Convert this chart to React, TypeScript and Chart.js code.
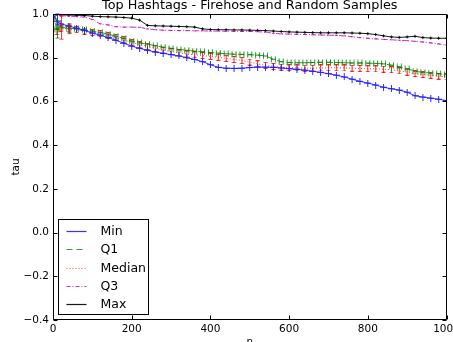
import React, { useEffect, useRef } from "react";
import { Chart, registerables } from "chart.js";

Chart.register(...registerables);

const TITLE = "Top Hashtags - Firehose and Random Samples";
const X_LABEL = "n";
const Y_LABEL = "tau";
const X_TICKS = [0, 200, 400, 600, 800, 1000];
const Y_TICKS = [-0.4, -0.2, 0.0, 0.2, 0.4, 0.6, 0.8, 1.0];

const N = [
  1, 10, 20, 40, 60, 80, 100, 120, 140, 160, 180, 200, 220, 240, 260, 280, 300, 320, 340, 360, 380, 400,
  420, 440, 460, 480, 500, 520, 540, 560, 580, 600, 620, 640, 660, 680, 700, 720, 740, 760, 780, 800,
  820, 840, 860, 880, 900, 920, 940, 960, 980, 1000,
];

const MIN = [
  1.0, 0.965, 0.955, 0.945, 0.935, 0.925, 0.913, 0.903, 0.892, 0.88, 0.866, 0.853, 0.843, 0.834, 0.826, 0.82,
  0.814, 0.808, 0.8, 0.792, 0.782, 0.768, 0.756, 0.752, 0.751, 0.752, 0.755, 0.757, 0.757, 0.756, 0.753, 0.75,
  0.747, 0.743, 0.738, 0.733, 0.727, 0.72, 0.712, 0.702, 0.692, 0.684, 0.675, 0.665, 0.658, 0.652, 0.642, 0.626,
  0.62, 0.615, 0.61, 0.604,
];

const Q1 = [
  1.0, 0.93, 0.94, 0.935, 0.932, 0.928, 0.922, 0.916, 0.908, 0.898, 0.888, 0.876, 0.868, 0.862, 0.855, 0.848,
  0.843, 0.838, 0.834, 0.83, 0.827, 0.824, 0.821, 0.818, 0.816, 0.815, 0.814, 0.812, 0.808, 0.793, 0.782, 0.778,
  0.777, 0.777, 0.778, 0.779, 0.779, 0.778, 0.777, 0.776, 0.776, 0.775, 0.774, 0.772, 0.766, 0.758, 0.75, 0.738,
  0.733, 0.73, 0.727, 0.722,
];

const MEDIAN = [
  1.0, 0.92, 0.935, 0.932, 0.928, 0.922, 0.916, 0.91, 0.902, 0.892, 0.882, 0.87, 0.86, 0.852, 0.843, 0.835,
  0.828, 0.822, 0.817, 0.813, 0.81, 0.806, 0.802, 0.797, 0.792, 0.787, 0.78, 0.772, 0.765, 0.76, 0.757, 0.755,
  0.753, 0.752, 0.752, 0.753, 0.754, 0.754, 0.753, 0.752, 0.751, 0.75, 0.749, 0.748, 0.745, 0.74, 0.734, 0.728,
  0.724, 0.72, 0.716, 0.712,
];

const Q3 = [
  1.0, 0.995, 0.993, 0.99, 0.988, 0.986, 0.975, 0.955, 0.95, 0.942, 0.94, 0.94, 0.939, 0.932, 0.928, 0.926,
  0.925, 0.924, 0.924, 0.923, 0.923, 0.922, 0.922, 0.921, 0.921, 0.92, 0.92, 0.919, 0.917, 0.912, 0.909, 0.908,
  0.907, 0.906, 0.905, 0.904, 0.903, 0.902, 0.9, 0.896, 0.892, 0.889, 0.886, 0.884, 0.882, 0.88, 0.878, 0.875,
  0.872, 0.868, 0.863, 0.858,
];

const MAX = [
  1.0, 0.998, 0.996, 0.995, 0.994, 0.993, 0.99, 0.988, 0.987, 0.986, 0.984, 0.981, 0.972, 0.948, 0.946, 0.945,
  0.944, 0.943, 0.942, 0.94, 0.932, 0.929, 0.928, 0.928, 0.927, 0.927, 0.926, 0.925, 0.924, 0.922, 0.92, 0.918,
  0.917, 0.916, 0.915, 0.914, 0.914, 0.914, 0.914, 0.913, 0.912, 0.91, 0.906, 0.9, 0.895, 0.893, 0.895, 0.898,
  0.892, 0.89, 0.889, 0.889,
];

// early, larger error bars: [n, low, high]
const MIN_BARS = [[10, 0.95, 1.0]];
const Q1_BARS = [[10, 0.89, 0.97], [40, 0.91, 0.955]];
const MEDIAN_BARS = [[20, 0.885, 0.99], [40, 0.915, 0.95]];

const LABELS = ["Min", "Q1", "Median", "Q3", "Max"];
const FONT = "'DejaVu Sans', sans-serif";

function mark(kind: string, color: string) {
  const c = document.createElement("canvas");
  c.width = 7;
  c.height = 7;
  const g = c.getContext("2d")!;
  g.strokeStyle = color;
  g.lineWidth = 1;
  g.beginPath();
  if (kind === "H") {
    g.moveTo(1.5, 0.5); g.lineTo(1.5, 6.5);
    g.moveTo(5.5, 0.5); g.lineTo(5.5, 6.5);
    g.moveTo(1, 3.5); g.lineTo(6, 3.5);
  } else if (kind === "I") {
    g.moveTo(3.5, 0); g.lineTo(3.5, 7);
    g.moveTo(1.5, 0.5); g.lineTo(5.5, 0.5);
    g.moveTo(1.5, 6.5); g.lineTo(5.5, 6.5);
  } else {
    g.moveTo(3.5, 0); g.lineTo(3.5, 7);
    g.moveTo(0, 3.5); g.lineTo(7, 3.5);
  }
  g.stroke();
  return c;
}

const errPlugin = {
  id: "errbars",
  afterDatasetsDraw(chart: any) {
    const { ctx, scales } = chart;
    const { x, y } = scales;
    ctx.save();
    chart.data.datasets.forEach((ds: any) => {
      (ds.bars || []).forEach((b: number[]) => {
        const px = Math.round(x.getPixelForValue(b[0])) + 0.5;
        const y1 = y.getPixelForValue(b[1]);
        const y2 = y.getPixelForValue(b[2]);
        ctx.strokeStyle = ds.markColor;
        ctx.lineWidth = 1;
        ctx.setLineDash([]);
        ctx.beginPath();
        ctx.moveTo(px, y1); ctx.lineTo(px, y2);
        ctx.moveTo(px - 2, y1); ctx.lineTo(px + 2, y1);
        ctx.moveTo(px - 2, y2); ctx.lineTo(px + 2, y2);
        ctx.stroke();
      });
    });
    ctx.restore();
  },
};

const framePlugin = {
  id: "frame",
  afterDraw(chart: any) {
    const { ctx, chartArea: a, scales } = chart;
    const { x, y } = scales;
    ctx.save();
    ctx.strokeStyle = "#000";
    ctx.lineWidth = 1;
    ctx.setLineDash([]);
    const l = Math.round(a.left) + 0.5;
    const r = Math.round(a.right) - 0.5;
    const t = Math.round(a.top) + 0.5;
    const b = Math.round(a.bottom) - 0.5;
    ctx.beginPath();
    ctx.rect(l, t, r - l, b - t);
    X_TICKS.forEach((v) => {
      const px = Math.round(x.getPixelForValue(v)) + 0.5;
      ctx.moveTo(px, b); ctx.lineTo(px, b - 4);
      ctx.moveTo(px, t); ctx.lineTo(px, t + 4);
    });
    Y_TICKS.forEach((v) => {
      const py = Math.round(y.getPixelForValue(v)) + 0.5;
      ctx.moveTo(l, py); ctx.lineTo(l + 4, py);
      ctx.moveTo(r, py); ctx.lineTo(r - 4, py);
    });
    ctx.stroke();

    // legend
    const bx = l + 5;
    const bw = 90;
    const bh = 95;
    const by = b - 5 - bh;
    ctx.fillStyle = "#fff";
    ctx.fillRect(bx, by, bw, bh);
    ctx.strokeStyle = "#000";
    ctx.strokeRect(bx, by, bw, bh);
    ctx.font = `12.5px ${FONT}`;
    ctx.textBaseline = "middle";
    ctx.textAlign = "left";
    chart.data.datasets.forEach((ds: any, i: number) => {
      const cy = Math.round(by + 11.5 + i * 18.3) + 0.5;
      ctx.strokeStyle = ds.borderColor;
      ctx.lineWidth = 1.2;
      ctx.setLineDash(ds.borderDash || []);
      ctx.beginPath();
      ctx.moveTo(bx + 8, cy);
      ctx.lineTo(bx + 28, cy);
      ctx.stroke();
      ctx.fillStyle = "#000";
      ctx.fillText(ds.label, bx + 42, cy);
    });
    ctx.restore();
  },
};

export default function App() {
  const ref = useRef<HTMLCanvasElement>(null);

  useEffect(() => {
    const cols = {
      min: "rgba(30,30,255,0.9)",
      q1: "rgba(0,128,0,0.8)",
      med: "rgba(255,0,0,0.75)",
      q3: "rgba(191,0,191,0.8)",
      max: "rgba(0,0,0,0.9)",
    };
    const pts = (arr: number[]) => N.map((n, i) => ({ x: n, y: arr[i] }));
    const chart = new Chart(ref.current!, {
      type: "line",
      data: {
        datasets: [
          {
            label: LABELS[0], data: pts(MIN), borderColor: cols.min, borderWidth: 1,
            pointStyle: mark("+", "rgba(30,30,255,0.95)"), pointRadius: 3, bars: MIN_BARS, markColor: cols.min,
          } as any,
          {
            label: LABELS[1], data: pts(Q1), borderColor: cols.q1, borderWidth: 1, borderDash: [6, 4],
            pointStyle: mark("H", "rgba(0,128,0,0.85)"), pointRadius: 3, bars: Q1_BARS, markColor: cols.q1,
          } as any,
          {
            label: LABELS[2], data: pts(MEDIAN), borderColor: cols.med, borderWidth: 1, borderDash: [1, 2],
            pointStyle: mark("I", "rgba(255,0,0,0.85)"), pointRadius: 3, bars: MEDIAN_BARS, markColor: cols.med,
          } as any,
          {
            label: LABELS[3], data: pts(Q3), borderColor: cols.q3, borderWidth: 1, borderDash: [4, 2, 1, 2],
            pointStyle: "line", pointRadius: 1.5, pointBorderColor: cols.q3, pointBorderWidth: 1,
          } as any,
          {
            label: LABELS[4], data: pts(MAX), borderColor: cols.max, borderWidth: 1,
            pointStyle: "cross", pointRadius: 1.5, pointBorderColor: cols.max, pointBorderWidth: 1,
          } as any,
        ],
      },
      options: {
        animation: false,
        responsive: true,
        maintainAspectRatio: false,
        events: [],
        layout: { padding: { left: 0, right: 6.5, top: 0, bottom: 0 } },
        plugins: {
          legend: { display: false },
          tooltip: { enabled: false },
          title: {
            display: true,
            text: TITLE,
            fullSize: false,
            color: "#000",
            font: { family: FONT, size: 12.8, weight: "normal", lineHeight: 1.2 },
            padding: { top: -2.2, bottom: 0.84 },
          },
        },
        scales: {
          x: {
            type: "linear",
            min: 0,
            max: 1000,
            grid: { display: false, drawTicks: false },
            border: { display: false },
            afterBuildTicks: (s: any) => { s.ticks = X_TICKS.map((v) => ({ value: v })); },
            ticks: {
              color: "#000",
              font: { family: FONT, size: 10.5 },
              padding: 3,
              maxRotation: 0,
              callback: (v: any) => String(v),
            },
            title: {
              display: true,
              text: X_LABEL,
              color: "#000",
              font: { family: FONT, size: 10.5 },
              padding: { top: 0, bottom: 3 },
            },
            afterFit: (s: any) => { s.height = 32; s.paddingLeft = 0; s.paddingRight = 0; },
          },
          y: {
            type: "linear",
            min: -0.4,
            max: 1.0,
            grid: { display: false, drawTicks: false },
            border: { display: false },
            afterBuildTicks: (s: any) => { s.ticks = Y_TICKS.map((v) => ({ value: v })); },
            ticks: {
              color: "#000",
              font: { family: FONT, size: 10.5 },
              padding: 4,
              callback: (v: any) => Number(v).toFixed(1).replace("-", "\u2212"),
            },
            title: {
              display: true,
              text: Y_LABEL,
              color: "#000",
              font: { family: FONT, size: 10.5 },
              padding: { top: 10, bottom: 0 },
            },
            afterFit: (s: any) => { s.width = 53; s.paddingTop = 0; s.paddingBottom = 0; },
          },
        },
      } as any,
      plugins: [errPlugin, framePlugin],
    });
    return () => chart.destroy();
  }, []);

  return (
    <div style={{ position: "fixed", left: 0, top: 0, width: 453, height: 342, overflow: "hidden", background: "#fff" }}>
      <div style={{ position: "relative", width: 453, height: 352 }}>
        <canvas ref={ref} />
      </div>
    </div>
  );
}
